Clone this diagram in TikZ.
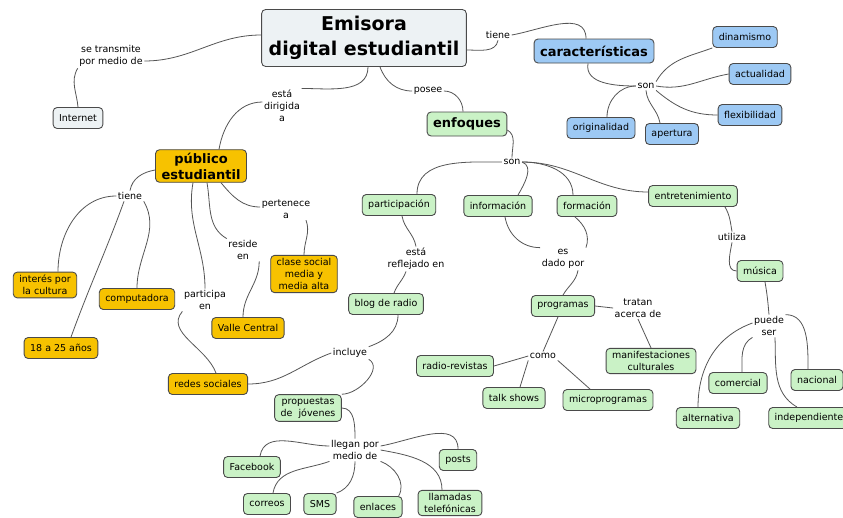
\documentclass[tikz,border=0pt]{standalone}
\usepackage{fontspec}
\setmainfont{DejaVu Sans}
\usetikzlibrary{positioning}
\definecolor{gris}{HTML}{EDF2F4}
\definecolor{azul}{HTML}{9DC9F4}
\definecolor{verde}{HTML}{CAF2C6}
\definecolor{naranja}{HTML}{F7C200}
\definecolor{borde}{HTML}{4A4A4A}
\definecolor{trazo}{HTML}{555555}

\begin{document}
\begin{tikzpicture}[x=1pt,y=-1pt,
  concepto/.style={draw=borde, line width=0.9pt, rounded corners=4pt, inner xsep=6pt, inner ysep=3pt, minimum height=21pt, align=center, font=\fontsize{9.5}{12}\selectfont},
  clave/.style={concepto, minimum height=24pt, font=\bfseries\fontsize{13}{16}\selectfont},
  enlace/.style={inner sep=1.5pt, align=center, font=\fontsize{9.5}{12}\selectfont},
  linea/.style={draw=trazo, line width=0.8pt}]
\fill [white] (0,0) rectangle (843,517);
\useasboundingbox (0,0) rectangle (843,517);
% conceptos
\node [concepto, fill=gris, inner xsep=7pt, minimum height=57pt, font=\bfseries\fontsize{19}{25}\selectfont] (raiz) at (364,38) {Emisora\\digital estudiantil};
\node [concepto, fill=gris] (internet) at (78,118) {Internet};
\node [clave, fill=azul] (caract) at (594,51) {características};
\node [concepto, fill=azul] (dinamismo) at (745,37) {dinamismo};
\node [concepto, fill=azul] (actualidad) at (760,74) {actualidad};
\node [concepto, fill=azul] (flexibilidad) at (750,115) {flexibilidad};
\node [concepto, fill=azul] (apertura) at (672,134) {apertura};
\node [concepto, fill=azul] (originalidad) at (601,128) {originalidad};
\node [clave, fill=verde] (enfoques) at (467,124) {enfoques};
\node [clave, fill=naranja] (publico) at (201,166) {público\\estudiantil};
\node [concepto, fill=naranja] (interes) at (45,285) {interés por\\la cultura};
\node [concepto, fill=naranja] (computadora) at (137,299) {computadora};
\node [concepto, fill=naranja] (edad) at (61,348) {18 a 25 años};
\node [concepto, fill=naranja] (valle) at (248,328) {Valle Central};
\node [concepto, fill=naranja] (clase) at (304,274) {clase social\\media y\\media alta};
\node [concepto, fill=naranja] (redes) at (208,384) {redes sociales};
\node [concepto, fill=verde] (participacion) at (399,205) {participación};
\node [concepto, fill=verde] (informacion) at (498,206) {información};
\node [concepto, fill=verde] (formacion) at (587,206) {formación};
\node [concepto, fill=verde] (entret) at (693,196) {entretenimiento};
\node [concepto, fill=verde] (blog) at (386,304) {blog de radio};
\node [concepto, fill=verde] (programas) at (563,306) {programas};
\node [concepto, fill=verde] (manif) at (651,361) {manifestaciones\\culturales};
\node [concepto, fill=verde] (radiorev) at (455,366) {radio-revistas};
\node [concepto, fill=verde] (talk) at (514,398) {talk shows};
\node [concepto, fill=verde] (micro) at (608,400) {microprogramas};
\node [concepto, fill=verde] (musica) at (760,271) {música};
\node [concepto, fill=verde] (comercial) at (738,383) {comercial};
\node [concepto, fill=verde] (nacional) at (817,380) {nacional};
\node [concepto, fill=verde] (alternativa) at (708,418) {alternativa};
\node [concepto, fill=verde] (independiente) at (809,418) {independiente};
\node [concepto, fill=verde] (propuestas) at (308,408) {propuestas\\de\ \ jóvenes};
\node [concepto, fill=verde] (facebook) at (252,467) {Facebook};
\node [concepto, fill=verde] (posts) at (458,460) {posts};
\node [concepto, fill=verde] (correos) at (267,504) {correos};
\node [concepto, fill=verde] (sms) at (320,504) {SMS};
\node [concepto, fill=verde] (enlaces) at (378,507) {enlaces};
\node [concepto, fill=verde] (llamadas) at (450,503) {llamadas\\telefónicas};
% frases de enlace
\node [enlace] (transm) at (111,56) {se transmite\\por medio de};
\node [enlace] (tiene1) at (498,35) {tiene};
\node [enlace] (son1) at (646,86) {son};
\node [enlace] (posee) at (428,91) {posee};
\node [enlace] (dirigida) at (282,106) {está\\dirigida\\a};
\node [enlace] (son2) at (512,162) {son};
\node [enlace] (tiene2) at (130,196) {tiene};
\node [enlace] (pertenece) at (286,209) {pertenece\\a};
\node [enlace] (reside) at (243,250) {reside\\en};
\node [enlace] (participa) at (205,300) {participa\\en};
\node [enlace] (reflejado) at (416,259) {está\\reflejado en};
\node [enlace] (dado) at (563,259) {es\\dado por};
\node [enlace] (tratan) at (638,308) {tratan\\acerca de};
\node [enlace] (como) at (543,356) {como};
\node [enlace] (utiliza) at (732,237) {utiliza};
\node [enlace] (puede) at (769,326) {puede\\ser};
\node [enlace] (incluye) at (350,353) {incluye};
\node [enlace] (llegan) at (355,450) {llegan por\\medio de};
% conexiones
\draw [linea] ([yshift=3pt]raiz.west) to[out=180,in=0] ([yshift=-5pt]transm.east);
\draw [linea] (transm.south west) to[out=-120,in=95] (internet.north);
\draw [linea] ([yshift=-12pt]raiz.east) to[out=0,in=-100] (tiene1.south);
\draw [linea] (tiene1.east) to[out=10,in=90] ([xshift=-8pt]caract.north);
\draw [linea] ([xshift=-6pt]caract.south) to[out=-100,in=180] (son1.west);
\draw [linea] (son1.north east) to[out=60,in=200] (dinamismo.south west);
\draw [linea] (son1.east) to[out=-10,in=190] (actualidad.west);
\draw [linea] (son1.south east) to[out=-40,in=180] (flexibilidad.west);
\draw [linea] (son1.south) to[out=-85,in=100] ([xshift=-12pt]apertura.north);
\draw [linea] (son1.west) to[out=180,in=90] ([xshift=6pt]originalidad.north);
\draw [linea] ([xshift=16pt]raiz.south) to[out=-70,in=180] (posee.west);
\draw [linea] (posee.east) to[out=0,in=90] ([xshift=-4pt]enfoques.north);
\draw [linea] ([xshift=4pt]raiz.south) to[out=-90,in=0] (dirigida.north east);
\draw [linea] ([yshift=4pt]dirigida.west) to[out=180,in=80] ([xshift=18pt]publico.north);
\draw [linea] ([yshift=-6pt]enfoques.east) to[out=-30,in=90] (son2.north);
\draw [linea] (son2.west) to[out=180,in=90] ([xshift=18pt]participacion.north);
\draw [linea] (son2.east) to[out=-20,in=60] ([xshift=20pt]informacion.north);
\draw [linea] (son2.east) to[out=0,in=90] ([xshift=-14pt]formacion.north);
\draw [linea] (son2.east) to[out=0,in=180] ([yshift=4pt]entret.west);
\draw [linea] ([xshift=3pt]participacion.south) to[out=-80,in=100] (reflejado.north);
\draw [linea] ([xshift=-10pt]reflejado.south) to[out=-110,in=70] ([xshift=8pt]blog.north);
\draw [linea] ([xshift=12pt]blog.south) to[out=-90,in=20] (incluye.north east);
\draw [linea] (incluye.west) to[out=200,in=0] (redes.east);
\draw [linea] (incluye.south east) to[out=-30,in=0] (propuestas.north east);
\draw [linea] (propuestas.east) to[out=0,in=90] (llegan.north);
\draw [linea] ([yshift=4pt]llegan.west) to[out=180,in=80] ([xshift=8pt]facebook.north);
\draw [linea] ([yshift=4pt]llegan.east) to[out=10,in=90] (posts.north);
\draw [linea] (llegan.south west) to[out=200,in=80] ([xshift=6pt]correos.north);
\draw [linea] (llegan.south) to[out=-90,in=20] (sms.north east);
\draw [linea] (llegan.south east) to[out=-20,in=60] ([xshift=-4pt]enlaces.north east);
\draw [linea] (llegan.east) to[out=-10,in=90] ([xshift=-8pt]llamadas.north);
\draw [linea] ([yshift=-4pt]publico.west) to[out=190,in=80] (tiene2.north);
\draw [linea] (tiene2.west) to[out=180,in=90] ([xshift=13pt]interes.north);
\draw [linea] ([xshift=-6pt]tiene2.south) to[out=-110,in=70] ([xshift=10pt]edad.north);
\draw [linea] (tiene2.south east) to[out=-60,in=90] (computadora.north);
\draw [linea] ([xshift=20pt]publico.south) to[out=-50,in=180] ([yshift=2pt]pertenece.west);
\draw [linea] ([xshift=20pt]pertenece.south) to[out=-70,in=90] (clase.north);
\draw [linea] ([xshift=6pt]publico.south) to[out=-80,in=150] (reside.north west);
\draw [linea] (reside.south east) to[out=-90,in=90] ([xshift=-5pt]valle.north);
\draw [linea] ([xshift=-8pt]publico.south) to[out=-100,in=90] (participa.north);
\draw [linea] (participa.south west) to[out=-130,in=110] ([xshift=8pt]redes.north);
\draw [linea] ([xshift=7pt]informacion.south) to[out=-80,in=180] (dado.north west);
\draw [linea] ([xshift=-12pt]formacion.south) to[out=-40,in=70] (dado.north east);
\draw [linea] ([xshift=15pt]dado.south) to[out=-100,in=60] (programas.north);
\draw [linea] (programas.east) -- (tratan.west);
\draw [linea] (tratan.south) -- (manif.north);
\draw [linea] ([xshift=-5pt]programas.south) -- (como.north);
\draw [linea] (como.west) -- (radiorev.east);
\draw [linea] (como.south west) -- ([xshift=6pt]talk.north);
\draw [linea] (como.south east) -- ([xshift=-18pt]micro.north);
\draw [linea] ([xshift=32pt]entret.south) to[out=-60,in=100] (utiliza.north);
\draw [linea] (utiliza.south) to[out=-100,in=180] (musica.west);
\draw [linea] ([xshift=5pt]musica.south) to[out=-80,in=95] (puede.north);
\draw [linea] (puede.north east) to[out=0,in=90] ([xshift=-9pt]nacional.north);
\draw [linea] (puede.south west) to[out=-150,in=90] ([xshift=4pt]comercial.north);
\draw [linea] ([yshift=3pt]puede.west) to[out=200,in=90] ([xshift=-10pt]alternativa.north);
\draw [linea] ([xshift=6pt]puede.south) to[out=-88,in=150] ([xshift=-12pt]independiente.north);
\end{tikzpicture}
\end{document}
